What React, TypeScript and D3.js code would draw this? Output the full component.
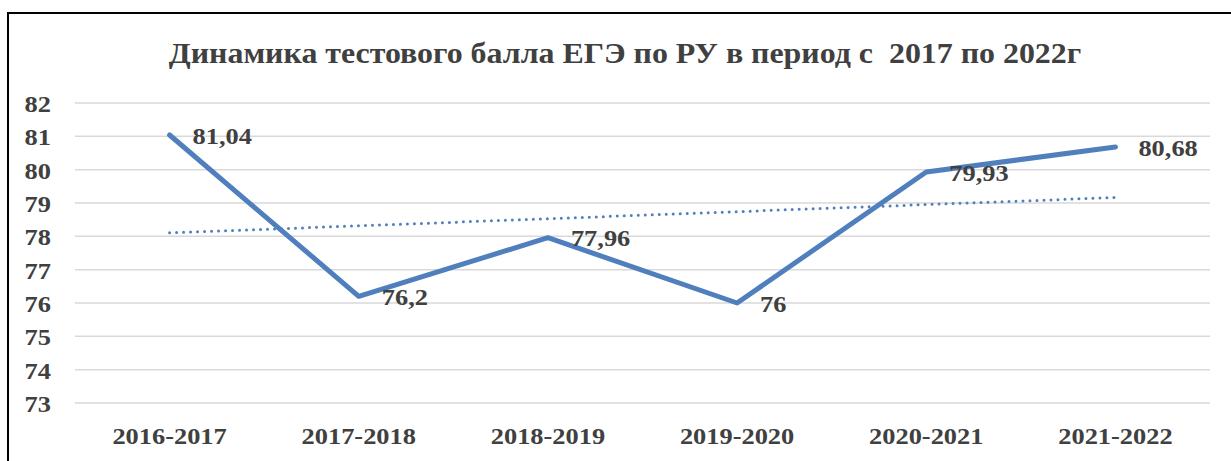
import { useRef, useEffect } from 'react';
import * as d3 from 'd3';

const categories = ['2016-2017', '2017-2018', '2018-2019', '2019-2020', '2020-2021', '2021-2022'];
const scores = [81.04, 76.2, 77.96, 76, 79.93, 80.68];
const yTicks = [73, 74, 75, 76, 77, 78, 79, 80, 81, 82];
const title = 'Динамика тестового балла ЕГЭ по РУ в период с  2017 по 2022г';

const App = () => {
  const ref = useRef<SVGSVGElement>(null);

  useEffect(() => {
    const svg = d3.select(ref.current);
    svg.selectAll('*').remove();

    const left = 75, right = 1210, top = 103, bottom = 403;
    const font = '"Liberation Serif", "Times New Roman", serif';
    const textColor = '#404040';
    const blue = '#4f7fbd';
    const sx = 1.1; // text in the original is stretched a bit horizontally

    // frame
    svg.append('rect')
      .attr('x', 8).attr('y', 13)
      .attr('width', 1300).attr('height', 500)
      .attr('fill', 'white')
      .attr('stroke', '#000')
      .attr('stroke-width', 2);

    svg.append('text')
      .attr('transform', `translate(625,63) scale(${sx},1)`)
      .attr('text-anchor', 'middle')
      .attr('font-family', font)
      .attr('font-weight', 'bold')
      .attr('font-size', 29)
      .attr('fill', textColor)
      .style('white-space', 'pre')
      .text(title);

    const x = d3.scaleBand().domain(categories).range([left, right]);
    const y = d3.scaleLinear().domain([73, 82]).range([bottom, top]);
    const cx = (c: string) => (x(c) ?? 0) + x.bandwidth() / 2;

    // gridlines
    svg.append('g')
      .selectAll('line')
      .data(yTicks)
      .join('line')
      .attr('x1', left).attr('x2', right)
      .attr('y1', d => y(d)).attr('y2', d => y(d))
      .attr('stroke', '#d9d9d9')
      .attr('stroke-width', 1.5);

    svg.append('g')
      .selectAll('text')
      .data(yTicks)
      .join('text')
      .attr('transform', d => `translate(51,${y(d) + 9}) scale(${sx},1)`)
      .attr('text-anchor', 'end')
      .attr('font-family', font)
      .attr('font-weight', 'bold')
      .attr('font-size', 24)
      .attr('fill', textColor)
      .text(d => d);

    svg.append('g')
      .selectAll('text')
      .data(categories)
      .join('text')
      .attr('transform', d => `translate(${cx(d)},444) scale(${sx},1)`)
      .attr('text-anchor', 'middle')
      .attr('font-family', font)
      .attr('font-weight', 'bold')
      .attr('font-size', 24)
      .attr('fill', textColor)
      .text(d => d);

    // linear trend
    const xs = scores.map((_, i) => i + 1);
    const mx = d3.mean(xs)!;
    const my = d3.mean(scores)!;
    const slope = d3.sum(xs, (v, i) => (v - mx) * (scores[i] - my)) / d3.sum(xs, v => (v - mx) ** 2);
    const trend = (v: number) => my + slope * (v - mx);

    svg.append('line')
      .attr('x1', cx(categories[0]))
      .attr('y1', y(trend(1)))
      .attr('x2', cx(categories[categories.length - 1]))
      .attr('y2', y(trend(categories.length)))
      .attr('stroke', blue)
      .attr('stroke-width', 3)
      .attr('stroke-linecap', 'round')
      .attr('stroke-dasharray', '0 7');

    const line = d3.line<number>()
      .x((_, i) => cx(categories[i]))
      .y(d => y(d));

    svg.append('path')
      .datum(scores)
      .attr('d', line)
      .attr('fill', 'none')
      .attr('stroke', blue)
      .attr('stroke-width', 5)
      .attr('stroke-linejoin', 'round')
      .attr('stroke-linecap', 'round');

    svg.append('g')
      .selectAll('text')
      .data(scores)
      .join('text')
      .attr('transform', (d, i) => `translate(${cx(categories[i]) + 23},${y(d) + 8.5}) scale(${sx},1)`)
      .attr('font-family', font)
      .attr('font-weight', 'bold')
      .attr('font-size', 24)
      .attr('fill', textColor)
      .text(d => String(d).replace('.', ','));
  }, []);

  return (
    <svg
      ref={ref}
      width={1231}
      height={461}
      style={{ position: 'absolute', left: 0, top: 0, display: 'block', background: 'white' }}
    />
  );
};

export default App;
